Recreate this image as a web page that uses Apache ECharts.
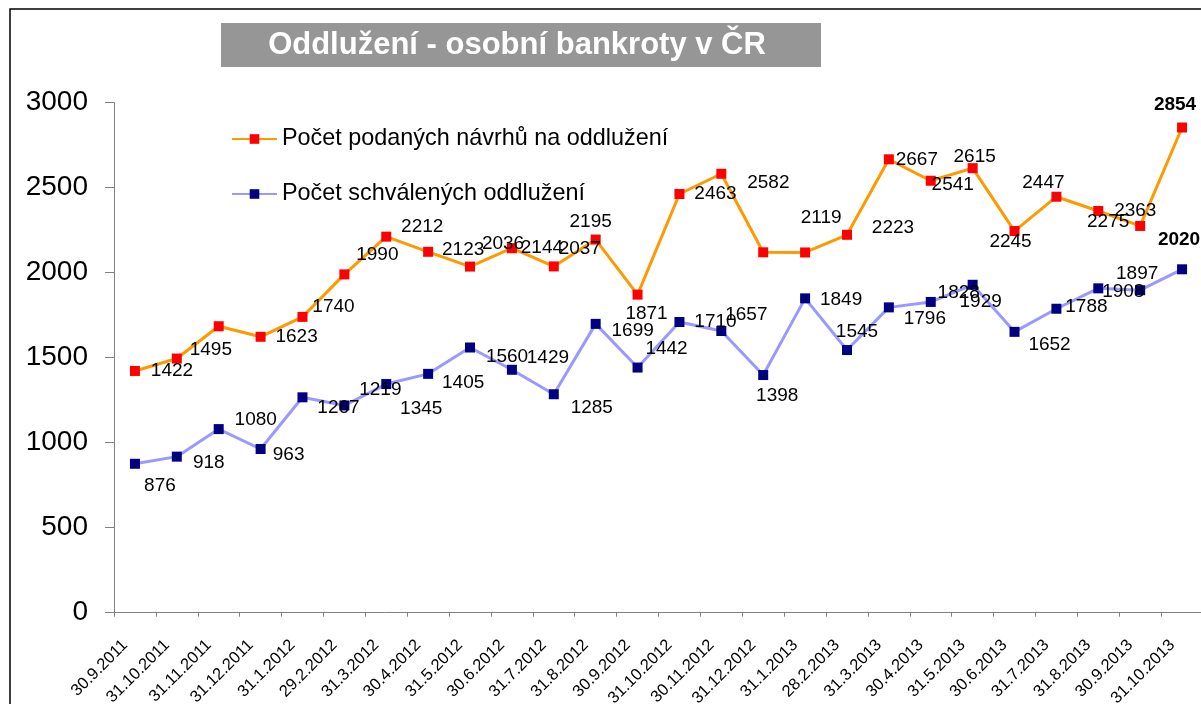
<!DOCTYPE html>
<html>
<head>
<meta charset="utf-8">
<script src="https://cdn.jsdelivr.net/npm/echarts@6/dist/echarts.min.js"></script>
<style>
html,body{margin:0;padding:0;background:#fff;}
#chart{width:1201px;height:704px;}
</style>
</head>
<body>
<div id="chart"></div>
<script>
// ---- data ----
const categories = ["30.9.2011","31.10.2011","31.11.2011","31.12.2011","31.1.2012","29.2.2012","31.3.2012","30.4.2012","31.5.2012","30.6.2012","31.7.2012","31.8.2012","30.9.2012","31.10.2012","30.11.2012","31.12.2012","31.1.2013","28.2.2013","31.3.2013","30.4.2013","31.5.2013","30.6.2013","31.7.2013","31.8.2013","30.9.2013","31.10.2013"];
const filed = [1422,1495,1685,1623,1740,1990,2212,2123,2036,2144,2037,2195,1871,2463,2582,2120,2119,2223,2667,2541,2615,2245,2447,2363,2275,2854];
const approved = [876,918,1080,963,1267,1219,1345,1405,1560,1429,1285,1699,1442,1710,1657,1398,1849,1545,1796,1828,1929,1652,1788,1908,1897,2020];
const filedLabelVisible = [1,1,0,1,1,1,1,1,1,1,1,1,1,1,1,0,1,1,1,1,1,1,1,1,1,1];
const seriesNames = ["Počet podaných návrhů na oddlužení","Počet schválených oddlužení"];
const titleText = "Oddlužení - osobní bankroty v ČR";
const yMin = 0, yMax = 3000, yInterval = 500;

// ---- layout (label offsets from each point, px) ----
const filedLabelOffsets = [[37,0],[34,-9],[0,0],[36,0],[31,-10],[33,-20],[36,-10],[35,-2],[33,-23],[30,0],[26,-18],[-5,-18],[9,19],[36,0],[47,9],[0,0],[16,-35],[46,-7],[28,0],[22,4],[2,-11],[-4,11],[-13,-14],[37,0],[-32,-4],[-7,-23]];
const approvedLabelOffsets = [[25,22],[32,6],[37,-9],[28,6],[36,10],[36,-16],[35,25],[35,9],[37,9],[36,-12],[38,14],[37,7],[29,-19],[36,0],[25,-16],[14,21],[36,1],[10,-18],[36,11],[28,-9],[8,17],[35,13],[30,-2],[25,3],[-3,-16],[-3,-30]];

const FONT = "'Liberation Sans', Arial, sans-serif";

function buildData(values, offsets, visible, boldLast) {
  return values.map((v, i) => ({
    value: v,
    label: {
      show: visible ? !!visible[i] : true,
      offset: offsets[i],
      fontWeight: (boldLast && i === values.length - 1) ? 'bold' : 'normal'
    }
  }));
}

const chart = echarts.init(document.getElementById('chart'), null, {renderer: 'canvas'});
const labelBase = {
  show: true,
  position: 'inside',
  color: '#000',
  fontSize: 19,
  fontFamily: FONT,
  align: 'center',
  verticalAlign: 'middle'
};

chart.setOption({
  animation: false,
  backgroundColor: '#fff',
  graphic: [
    {type: 'rect', shape: {x: 10, y: 9, width: 1400, height: 900}, style: {fill: 'none', stroke: '#000', lineWidth: 1.5}, silent: true, z: 0},
    {type: 'rect', shape: {x: 221, y: 23, width: 600, height: 44}, style: {fill: '#969696'}, silent: true, z: 1},
    {type: 'text', x: 517, y: 45, style: {text: titleText, fill: '#fff', font: "bold 31px 'Liberation Sans', Arial, sans-serif", textAlign: 'center', textVerticalAlign: 'middle'}, silent: true, z: 2}
  ],
  legend: {
    orient: 'vertical',
    left: 231,
    top: 127,
    padding: 0,
    itemWidth: 45,
    itemHeight: 12,
    itemGap: 31,
    data: seriesNames,
    textStyle: {fontSize: 23.4, fontFamily: FONT, color: '#000', lineHeight: 24},
    selectedMode: false
  },
  grid: {left: 114, top: 102.7, width: 1089, bottom: 91.3, containLabel: false, outerBoundsMode: 'none'},
  xAxis: {
    type: 'category',
    data: categories,
    boundaryGap: true,
    axisLine: {show: true, lineStyle: {color: '#808080', width: 1}},
    axisTick: {show: true, length: 4, inside: false, alignWithLabel: false, lineStyle: {color: '#808080'}},
    axisLabel: {rotate: 45, interval: 0, fontSize: 16.5, fontFamily: FONT, color: '#000', margin: 20, padding: [0, 14, 0, 0]},
    splitLine: {show: false}
  },
  yAxis: {
    type: 'value',
    min: yMin, max: yMax, interval: yInterval,
    axisLine: {show: true, lineStyle: {color: '#808080', width: 1}},
    axisTick: {show: true, length: 9, inside: false, lineStyle: {color: '#808080'}},
    axisLabel: {fontSize: 28, fontFamily: FONT, color: '#000', margin: 26, formatter: v => String(v)},
    splitLine: {show: false}
  },
  series: [
    {
      name: seriesNames[0],
      type: 'line',
      data: buildData(filed, filedLabelOffsets, filedLabelVisible, true),
      symbol: 'rect',
      symbolSize: 10,
      lineStyle: {color: '#FF9900', width: 3},
      itemStyle: {color: '#FF0000', borderWidth: 0},
      label: labelBase,
      emphasis: {disabled: true},
      z: 3
    },
    {
      name: seriesNames[1],
      type: 'line',
      data: buildData(approved, approvedLabelOffsets, null, true),
      symbol: 'rect',
      symbolSize: 10,
      lineStyle: {color: '#9999FF', width: 3},
      itemStyle: {color: '#000080', borderWidth: 0},
      label: labelBase,
      emphasis: {disabled: true},
      z: 3
    }
  ]
});
</script>
</body>
</html>
